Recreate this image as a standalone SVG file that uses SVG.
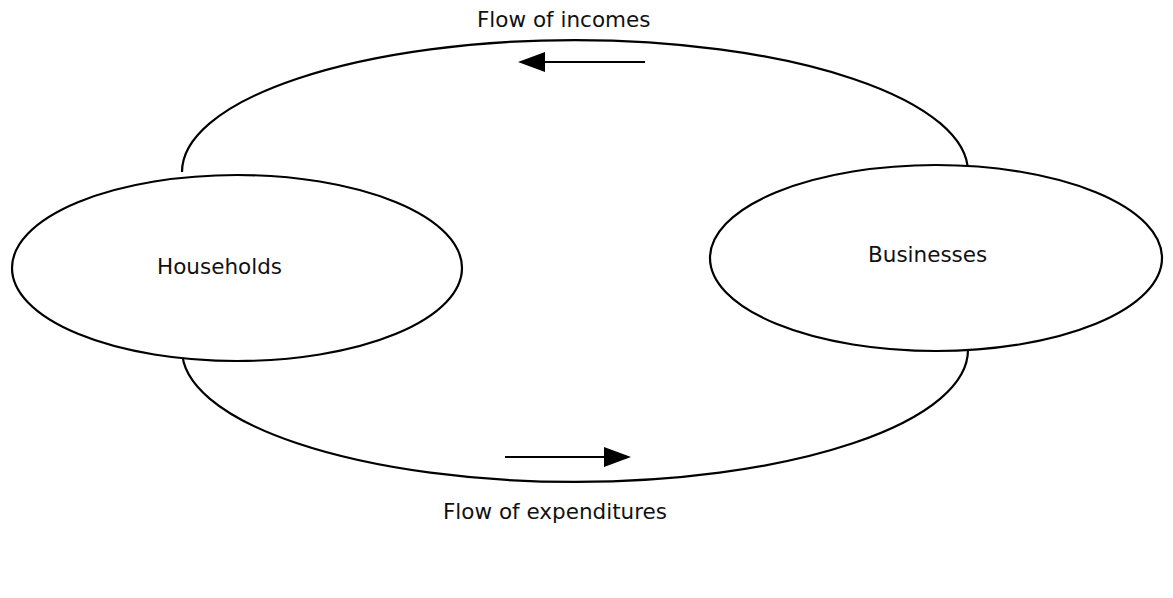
<svg xmlns="http://www.w3.org/2000/svg" width="1173" height="598" viewBox="0 0 1173 598">
<style>
.shape{fill:none;stroke:#000;stroke-width:2.2}
.lbl{font-family:"DejaVu Sans",Verdana,sans-serif;font-size:21.5px;fill:#111}
.flow{fill:none;stroke:#000;stroke-width:2.2}
.head{fill:#000;stroke:none}
</style>
<rect width="1173" height="598" fill="#fff"/>
<g id="connectors">
<path class="flow" d="M182,172 A393,132 0 0 1 968,172"/>
<path class="flow" d="M182,350 A393,132 0 0 0 968,350"/>
<line class="flow" x1="645" y1="62" x2="543" y2="62"/>
<polygon class="head" points="518,62 545,52 545,72"/>
<line class="flow" x1="505" y1="457" x2="606" y2="457"/>
<polygon class="head" points="631,457 604,447 604,467"/>
</g>
<g id="households">
<ellipse class="shape" cx="237" cy="268" rx="225" ry="93" fill="#fff" style="fill:#fff"/>
<text class="lbl" x="157" y="274">Households</text>
</g>
<g id="businesses">
<ellipse class="shape" cx="936" cy="258" rx="226" ry="93" style="fill:#fff"/>
<text class="lbl" x="868" y="262">Businesses</text>
</g>
<g id="labels">
<text class="lbl" x="477" y="27">Flow of incomes</text>
<text class="lbl" x="443" y="519">Flow of expenditures</text>
</g>
</svg>
